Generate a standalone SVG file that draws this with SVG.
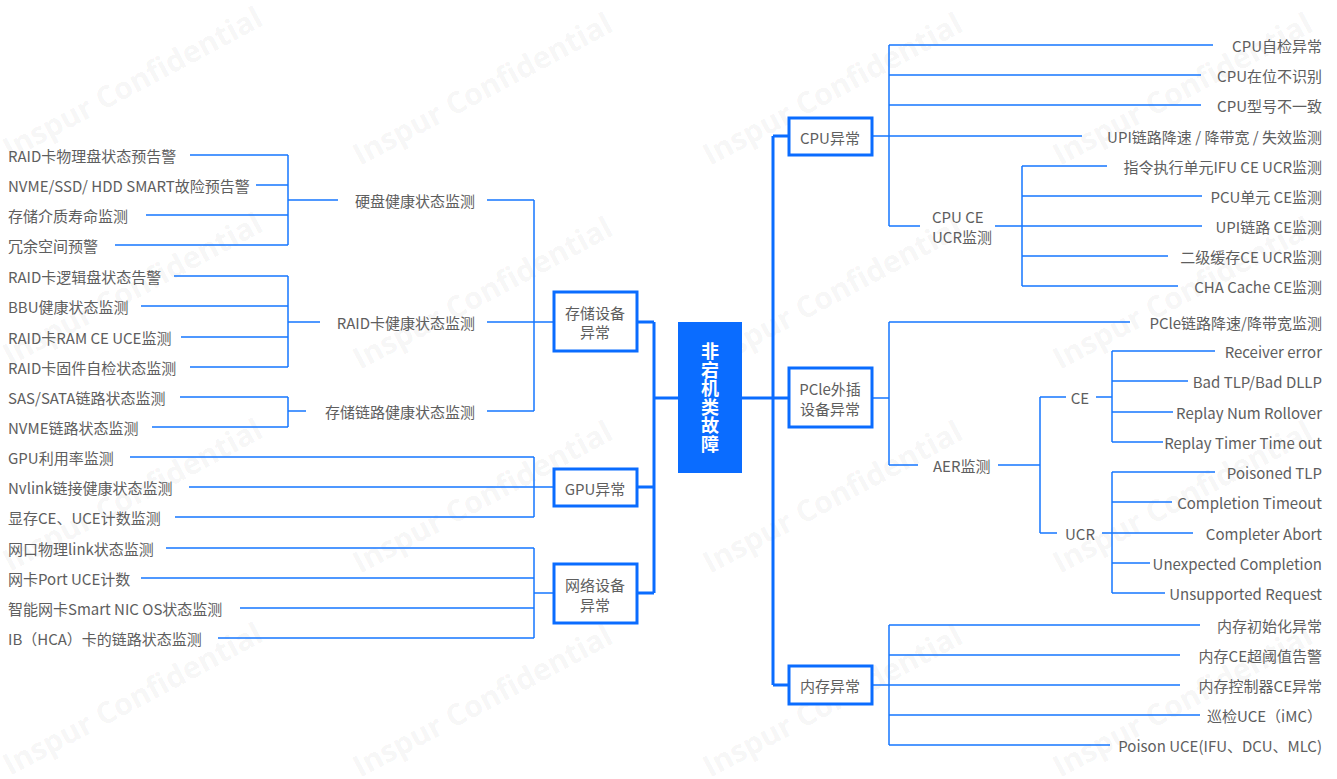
<svg xmlns="http://www.w3.org/2000/svg" width="1337" height="779" viewBox="0 0 1337 779">
<style>
text{font-family:"Noto Sans CJK SC","Noto Sans",sans-serif;font-size:15px;fill:#5e5e5e;dominant-baseline:central}
.r{text-anchor:end}
.m{text-anchor:middle}
.wm{font-family:"Open Sans","Noto Sans",sans-serif;font-size:30px;font-weight:700;fill:#000;fill-opacity:0.055;dominant-baseline:alphabetic}
.t{stroke:#1677ff;stroke-width:1.5;fill:none}
.k{stroke:#0a6cff;stroke-width:3;fill:none}
.box{fill:#fff;stroke:#0a6cff;stroke-width:3}
.c{fill:#fff;font-size:18px;font-weight:700;text-anchor:middle;writing-mode:vertical-rl;letter-spacing:0.6px;dominant-baseline:auto}
</style>
<rect width="1337" height="779" fill="#fff"/>
<g id="watermarks">
<text class="wm" transform="translate(10,160) rotate(-28)">Inspur Confidential</text>
<text class="wm" transform="translate(360,166) rotate(-28)">Inspur Confidential</text>
<text class="wm" transform="translate(710,166) rotate(-28)">Inspur Confidential</text>
<text class="wm" transform="translate(1060,166) rotate(-28)">Inspur Confidential</text>
<text class="wm" transform="translate(10,366) rotate(-28)">Inspur Confidential</text>
<text class="wm" transform="translate(360,370) rotate(-28)">Inspur Confidential</text>
<text class="wm" transform="translate(710,370) rotate(-28)">Inspur Confidential</text>
<text class="wm" transform="translate(1060,370) rotate(-28)">Inspur Confidential</text>
<text class="wm" transform="translate(10,572) rotate(-28)">Inspur Confidential</text>
<text class="wm" transform="translate(360,574) rotate(-28)">Inspur Confidential</text>
<text class="wm" transform="translate(710,574) rotate(-28)">Inspur Confidential</text>
<text class="wm" transform="translate(1060,574) rotate(-28)">Inspur Confidential</text>
<text class="wm" transform="translate(10,776) rotate(-28)">Inspur Confidential</text>
<text class="wm" transform="translate(360,778) rotate(-28)">Inspur Confidential</text>
<text class="wm" transform="translate(710,778) rotate(-28)">Inspur Confidential</text>
<text class="wm" transform="translate(1060,778) rotate(-28)">Inspur Confidential</text>
</g>
<g id="connectors">
<path class="k" d="M678 398H654M654 322V593M637 322H654M637 487H654M637 593H654"/>
<path class="k" d="M742 398H773M773 136V685M773 136H788M773 398H788M773 685H788"/>
<path class="t" d="M534 200V411M487 200H534M487 411H534M553 322H487"/>
<path class="t" d="M288 155V245M288 200H338M190 155H288M256 185H288M146 215H288M115 245H288"/>
<path class="t" d="M288 276V367M288 322H320M174 276H288M141 306H288M181 337H288M190 367H288"/>
<path class="t" d="M288 397V427M288 411H306M180 397H288M152 427H288"/>
<path class="t" d="M534 457V517M130 457H534M189 487H553M175 517H534"/>
<path class="t" d="M534 548V638M534 593H553M166 548H534M141 578H534M240 608H534M218 638H534"/>
<path class="t" d="M889 45V226M889 45H1213M889 75H1201M889 105H1201M872 136H1082M889 226H920"/>
<path class="t" d="M1022 166V286M1022 166H1107M1022 196H1202M995 226H1202M1022 256H1168M1022 286H1178"/>
<path class="t" d="M872 398H889M889 322V465M889 322H1130M889 465H918M998 465H1040M1040 397V533"/>
<path class="t" d="M1040 397H1066M1096 397H1112M1112 351V442M1112 351H1215M1112 381H1188M1112 412H1173M1112 442H1163"/>
<path class="t" d="M1040 533H1057M1102 533H1193M1112 472V593M1112 472H1215M1112 502H1172M1112 563H1150M1112 593H1165"/>
<path class="t" d="M872 685H1180M889 625V745M889 625H1200M889 655H1180M889 715H1200M889 745H1110"/>
</g>
<g id="root">
<rect x="678" y="322" width="64" height="151" fill="#0a6cff"/>
<text class="c" x="710" y="398">非宕机类故障</text>
</g>
<g id="storage">
<rect class="box" x="554" y="292" width="83" height="59"/>
<text class="m" x="595" y="312">存储设备</text>
<text class="m" x="595" y="331">异常</text>
</g>
<g id="gpu">
<rect class="box" x="554" y="469" width="83" height="37"/>
<text class="m" x="595" y="488">GPU异常</text>
</g>
<g id="network">
<rect class="box" x="554" y="564" width="83" height="59"/>
<text class="m" x="595" y="584">网络设备</text>
<text class="m" x="595" y="604">异常</text>
</g>
<g id="cpu">
<rect class="box" x="789" y="118" width="83" height="37"/>
<text class="m" x="830" y="137">CPU异常</text>
</g>
<g id="pcie">
<rect class="box" x="789" y="368" width="83" height="59"/>
<text class="m" x="830" y="388">PCle外插</text>
<text class="m" x="830" y="408">设备异常</text>
</g>
<g id="memory">
<rect class="box" x="789" y="666" width="83" height="38"/>
<text class="m" x="830" y="685">内存异常</text>
</g>
<g id="storage-children">
<text class="r" x="475" y="200">硬盘健康状态监测</text>
<text class="r" x="475" y="322">RAID卡健康状态监测</text>
<text class="r" x="475" y="411">存储链路健康状态监测</text>
</g>
<g id="left-leaves">
<text x="8" y="155">RAID卡物理盘状态预告警</text>
<text x="8" y="185">NVME/SSD/ HDD SMART故险预告警</text>
<text x="8" y="215">存储介质寿命监测</text>
<text x="8" y="245">冗余空间预警</text>
<text x="8" y="276">RAID卡逻辑盘状态告警</text>
<text x="8" y="306">BBU健康状态监测</text>
<text x="8" y="337">RAID卡RAM CE UCE监测</text>
<text x="8" y="367">RAID卡固件自检状态监测</text>
<text x="8" y="397">SAS/SATA链路状态监测</text>
<text x="8" y="427">NVME链路状态监测</text>
<text x="8" y="457">GPU利用率监测</text>
<text x="8" y="487">Nvlink链接健康状态监测</text>
<text x="8" y="517">显存CE、UCE计数监测</text>
<text x="8" y="548">网口物理link状态监测</text>
<text x="8" y="578">网卡Port UCE计数</text>
<text x="8" y="608">智能网卡Smart NIC OS状态监测</text>
<text x="8" y="638">IB（HCA）卡的链路状态监测</text>
</g>
<g id="cpu-children">
<text class="r" x="1322" y="45">CPU自检异常</text>
<text class="r" x="1322" y="75">CPU在位不识别</text>
<text class="r" x="1322" y="105">CPU型号不一致</text>
<text class="r" x="1322" y="136">UPI链路降速 / 降带宽 / 失效监测</text>
<text x="932" y="216">CPU CE</text>
<text x="932" y="236">UCR监测</text>
<text class="r" x="1322" y="166">指令执行单元IFU CE UCR监测</text>
<text class="r" x="1322" y="196">PCU单元 CE监测</text>
<text class="r" x="1322" y="226">UPI链路 CE监测</text>
<text class="r" x="1322" y="256">二级缓存CE UCR监测</text>
<text class="r" x="1322" y="286">CHA Cache CE监测</text>
</g>
<g id="pcie-children">
<text class="r" x="1322" y="322">PCle链路降速/降带宽监测</text>
<text x="933" y="465">AER监测</text>
<text class="m" x="1080" y="397">CE</text>
<text class="m" x="1080" y="533">UCR</text>
<text class="r" x="1322" y="351">Receiver error</text>
<text class="r" x="1322" y="381">Bad TLP/Bad DLLP</text>
<text class="r" x="1322" y="412">Replay Num Rollover</text>
<text class="r" x="1322" y="442">Replay Timer Time out</text>
<text class="r" x="1322" y="472">Poisoned TLP</text>
<text class="r" x="1322" y="502">Completion Timeout</text>
<text class="r" x="1322" y="533">Completer Abort</text>
<text class="r" x="1322" y="563">Unexpected Completion</text>
<text class="r" x="1322" y="593">Unsupported Request</text>
</g>
<g id="memory-children">
<text class="r" x="1322" y="625">内存初始化异常</text>
<text class="r" x="1322" y="655">内存CE超阈值告警</text>
<text class="r" x="1322" y="685">内存控制器CE异常</text>
<text class="r" x="1322" y="715">巡检UCE（iMC）</text>
<text class="r" x="1322" y="745">Poison UCE(IFU、DCU、MLC)</text>
</g>
</svg>
